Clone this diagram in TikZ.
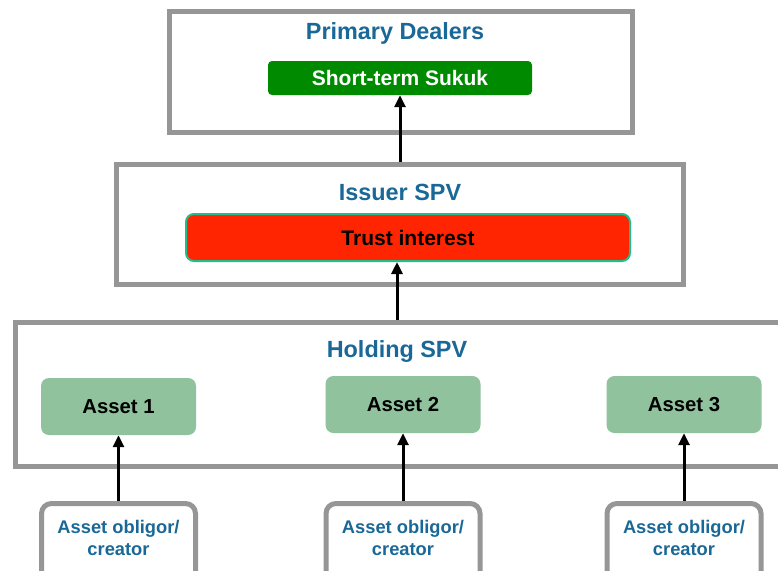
\documentclass[tikz,border=0pt]{standalone}
\usepackage{fontspec}
\setmainfont{Liberation Sans}
\usepackage{tikz}
\usetikzlibrary{arrows.meta, positioning}

\definecolor{headblue}{RGB}{26,104,152}
\definecolor{framegray}{RGB}{150,150,150}
\definecolor{sukukgreen}{RGB}{0,138,0}
\definecolor{trustred}{RGB}{255,37,0}
\definecolor{trustedge}{RGB}{32,190,140}
\definecolor{assetgreen}{RGB}{143,194,157}

\begin{document}
\begin{tikzpicture}[x=1pt, y=-1pt, >={Triangle[length=12pt,width=11pt]},
    frame/.style={draw=framegray, line width=5pt, fill=white, inner sep=0pt},
    head/.style={text=headblue, font=\fontsize{23.4}{27}\selectfont\bfseries},
    inner/.style={rounded corners=4pt, inner sep=0pt, font=\fontsize{21}{24}\selectfont\bfseries},
    asset/.style={fill=assetgreen, rounded corners=8pt, minimum width=155pt, minimum height=57pt,
        inner sep=0pt, font=\fontsize{20.3}{24}\selectfont\bfseries},
    obligor/.style={draw=framegray, line width=5pt, fill=white, rounded corners=10pt,
        minimum height=120pt, inner sep=0pt},
    obltext/.style={text=headblue, align=center, font=\fontsize{18.3}{21.5}\selectfont\bfseries},
    flow/.style={->, line width=3pt}]

    \useasboundingbox (0,0) rectangle (778,570);
    \clip (0,0) rectangle (778,570);

    % Primary dealers
    \node[frame, minimum width=463pt, minimum height=121pt] (dealers) at (400.5,72) {};
    \node[head] (dealershead) at (395,33) {Primary Dealers};
    \node[inner, fill=sukukgreen, text=white, minimum width=264pt, minimum height=34pt]
        (sukuk) at (400,78) {Short-term Sukuk};

    % Issuer SPV
    \node[frame, minimum width=567pt, minimum height=120pt] (issuer) at (400,224.5) {};
    \node[head] (issuerhead) at (400,192) {Issuer SPV};
    \node[inner, fill=trustred, draw=trustedge, line width=2pt, rounded corners=8pt,
        minimum width=444pt, minimum height=47pt] (trust) at (408,237.5) {Trust interest};

    % Holding SPV with its assets
    \node[frame, minimum width=785pt, minimum height=144pt] (holding) at (408,394.5) {};
    \node[head] (holdinghead) at (397,351) {Holding SPV};
    \node[asset] (asset1) at (118.5,406.5) {Asset 1};
    \node[asset] (asset2) at (403,404.5) {Asset 2};
    \node[asset] (asset3) at (684,404.5) {Asset 3};

    % Obligors
    \foreach \i/\x in {1/118.5, 2/403, 3/684} {
        \node[obligor, minimum width=154pt] (obl\i) at (\x,563.5) {};
        \node[obltext] (obltext\i) at (\x,538) {Asset obligor/\\creator};
        \draw[flow] (obl\i.north) -- (asset\i.south);
    }

    % Flows upwards
    \draw[flow] (holdinghead |- holding.north) -- (holdinghead |- trust.south);
    \draw[flow] (sukuk.south |- issuer.north) -- (sukuk.south);

\end{tikzpicture}
\end{document}
